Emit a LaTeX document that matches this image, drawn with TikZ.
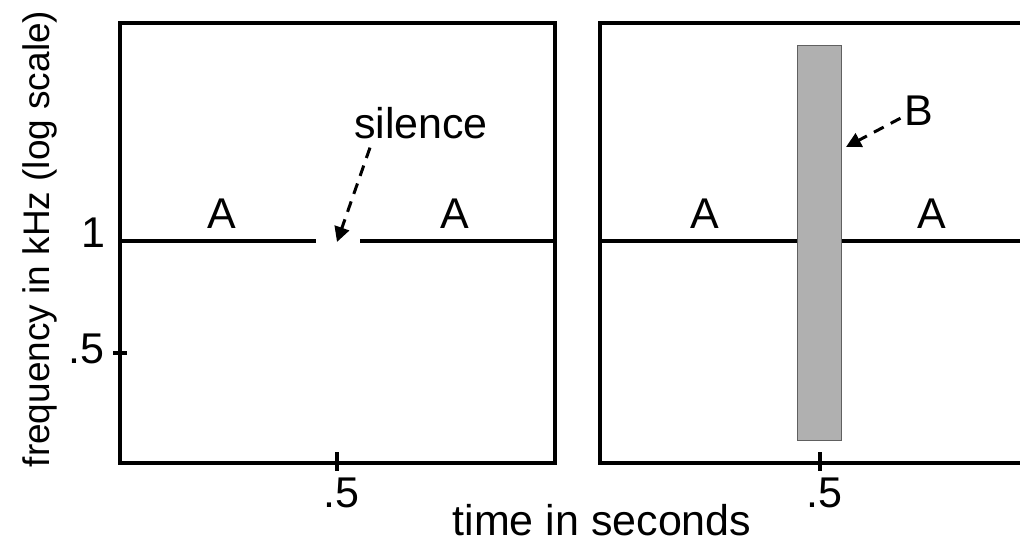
\documentclass[tikz,border=0pt]{standalone}
\usepackage{fontspec}
\setmainfont{Liberation Sans}
\usetikzlibrary{arrows.meta}
\begin{document}
\begin{tikzpicture}[x=1pt,y=-1pt,
  axis/.style={line width=4pt, line join=miter},
  tone/.style={line width=3.5pt},
  lbl/.style={font=\fontsize{43}{43}\selectfont, inner sep=0pt, anchor=base},
  ptr/.style={line width=3pt, dash pattern=on 11pt off 8pt, -{Triangle[length=15pt,width=15pt]}}]
\useasboundingbox (0,0) rectangle (1020,544);
% left panel
\draw[axis] (120,23) -- (555,23) -- (555,463) -- (120,463) -- cycle;
\draw[tone] (120,241) -- (316,241);
\draw[tone] (360,241) -- (555,241);
\draw[axis] (113,353) -- (127,353);
\draw[axis] (337,452) -- (337,471);
% right panel
\draw[axis] (1022,23) -- (600,23) -- (600,463) -- (1022,463);
\draw[tone] (600,241) -- (1022,241);
\node[draw=gray!75!black, fill=gray!62, line width=1pt, minimum width=44pt, minimum height=395pt, inner sep=0pt] (Bband) at (819,242.5) {};
\draw[axis] (820,452) -- (820,471);
% labels
\node[lbl] (A1) at (222,228) {A};
\node[lbl] (A2) at (455,228) {A};
\node[lbl] (A3) at (705,228) {A};
\node[lbl] (A4) at (932,228) {A};
\node[lbl] (silence) at (421,138) {silence};
\node[lbl] (B) at (919,125) {B};
\node[lbl] (one) at (93,247) {1};
\node[lbl] (half) at (86,363) {.5};
\node[lbl] (t1) at (341,507) {.5};
\node[lbl] (t2) at (824,507) {.5};
\node[lbl] (xlab) at (602,535) {time in seconds};
\node[font=\fontsize{37}{37}\selectfont, inner sep=0pt, rotate=90] (ylab) at (40,239) {frequency in kHz (log scale)};
% pointers
\coordinate (gap) at (337,242);
\coordinate (Bpt) at (846,147);
\draw[ptr] ([xshift=-51pt,yshift=-9pt]silence.south) -- (gap);
\draw[ptr] ([xshift=-4pt,yshift=-8pt]B.west) -- (Bpt);
\end{tikzpicture}
\end{document}
